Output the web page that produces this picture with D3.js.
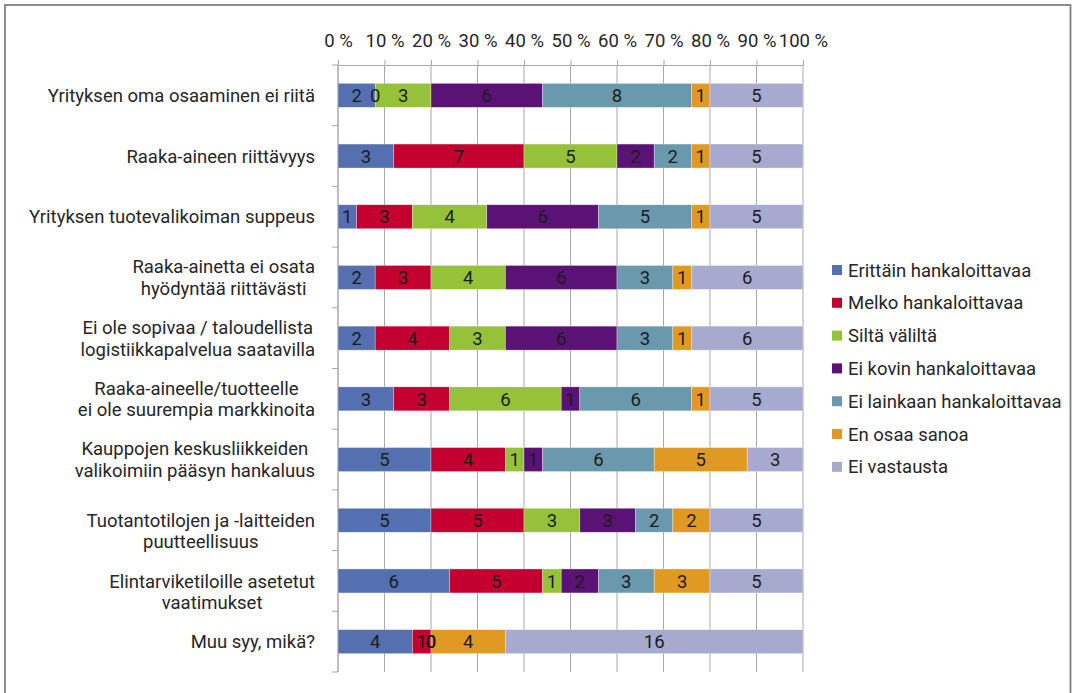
<!DOCTYPE html>
<html>
<head>
<meta charset="utf-8">
<script src="https://cdn.jsdelivr.net/npm/d3@7"></script>
<style>
  html, body { margin: 0; padding: 0; background: #fff; }
  svg { display: block; font-family: Roboto, "Noto Sans", sans-serif; }
</style>
</head>
<body>
<svg id="chart" width="1074" height="693"></svg>
<script>
// Category labels (each entry is a list of lines)
const categories = [
  ["Yrityksen oma osaaminen ei riitä"],
  ["Raaka-aineen riittävyys"],
  ["Yrityksen tuotevalikoiman suppeus"],
  ["Raaka-ainetta ei osata", "hyödyntää riittävästi"],
  ["Ei ole sopivaa / taloudellista", "logistiikkapalvelua saatavilla"],
  ["Raaka-aineelle/tuotteelle", "ei ole suurempia markkinoita"],
  ["Kauppojen keskusliikkeiden", "valikoimiin pääsyn hankaluus"],
  ["", "Tuotantotilojen ja -laitteiden", "puutteellisuus"],
  ["", "Elintarviketiloille asetetut", "vaatimukset"],
  ["Muu syy, mikä?"]
];

const seriesNames = [
  "Erittäin hankaloittavaa",
  "Melko hankaloittavaa",
  "Siltä väliltä",
  "Ei kovin hankaloittavaa",
  "Ei lainkaan hankaloittavaa",
  "En osaa sanoa",
  "Ei vastausta"
];

const seriesColors = ["#5470b0", "#c3002f", "#96c23a", "#5a1275", "#6a98ad", "#e09a24", "#a6aacf"];

// Response counts per series, in category order
const erittain   = [2, 3, 1, 2, 2, 3, 5, 5, 6, 4];
const melko      = [0, 7, 3, 3, 4, 3, 4, 5, 5, 1];
const siltaValta = [3, 5, 4, 4, 3, 6, 1, 3, 1, 0];
const eiKovin    = [6, 2, 6, 6, 6, 1, 1, 3, 2, 0];
const eiLainkaan = [8, 2, 5, 3, 3, 6, 6, 2, 3, 0];
const enOsaa     = [1, 1, 1, 1, 1, 1, 5, 2, 3, 4];
const eiVastausta = [5, 5, 5, 6, 6, 5, 3, 5, 5, 16];

const tickValues = [0, 0.1, 0.2, 0.3, 0.4, 0.5, 0.6, 0.7, 0.8, 0.9, 1.0];

const seriesValues = [erittain, melko, siltaValta, eiKovin, eiLainkaan, enOsaa, eiVastausta];

const svg = d3.select("#chart");
const textColor = "#262626";
const gridColor = "#a8a8a8";
const fontSize = 18.5;

// Outer frame
svg.append("rect")
  .attr("x", 5).attr("y", 5).attr("width", 1065.5).attr("height", 720)
  .attr("fill", "none").attr("stroke", "#808080").attr("stroke-width", 1.8);

const plotLeft = 338, plotRight = 803, plotTop = 65, plotBottom = 672;
const keys = categories.map((c, i) => i);

const x = d3.scaleLinear().domain([0, 1]).range([plotLeft, plotRight]);
const y = d3.scaleBand().domain(keys).range([plotTop, plotBottom])
  .paddingInner(0.605).paddingOuter(0.3025);

// Table of rows with shares for the 100% stack
const rows = keys.map(i => {
  const row = { idx: i };
  const total = d3.sum(seriesValues, s => s[i]);
  seriesNames.forEach((n, k) => { row[n] = seriesValues[k][i] / total; row[n + "_n"] = seriesValues[k][i]; });
  return row;
});
const stack = d3.stack().keys(seriesNames)(rows);

// Vertical gridlines
svg.append("g").selectAll("line").data(tickValues).join("line")
  .attr("x1", d => x(d)).attr("x2", d => x(d))
  .attr("y1", plotTop).attr("y2", plotBottom)
  .attr("stroke", gridColor).attr("stroke-width", 1);

// Top percentage axis
const xAxis = svg.append("g").attr("transform", `translate(0,${plotTop})`)
  .call(d3.axisTop(x).tickValues(tickValues).tickSize(5).tickSizeOuter(0).tickPadding(13)
    .tickFormat(d => Math.round(d * 100) + " %"));
xAxis.select(".domain").attr("stroke", gridColor);
xAxis.selectAll(".tick line").attr("stroke", gridColor);
xAxis.selectAll(".tick text").attr("fill", textColor)
  .style("font-size", fontSize + "px").style("font-family", "Roboto, sans-serif");

// Left category axis line with ticks at band boundaries
const boundaries = keys.map(i => y(i) - y.step() * y.paddingInner() / 2).concat([plotBottom]);
svg.append("line").attr("x1", plotLeft).attr("x2", plotLeft).attr("y1", plotTop).attr("y2", plotBottom)
  .attr("stroke", gridColor);
svg.append("g").selectAll("line").data(boundaries).join("line")
  .attr("x1", plotLeft - 6).attr("x2", plotLeft).attr("y1", d => d).attr("y2", d => d)
  .attr("stroke", gridColor);

// Stacked bar segments
const layers = svg.append("g").selectAll("g").data(stack).join("g")
  .attr("fill", (d, k) => seriesColors[k]);
layers.selectAll("rect").data(d => d).join("rect")
  .attr("x", d => x(d[0]))
  .attr("width", d => x(d[1]) - x(d[0]))
  .attr("y", d => y(d.data.idx))
  .attr("height", y.bandwidth())
  .attr("stroke", "#ffffff").attr("stroke-opacity", 0.5).attr("stroke-width", 0.6);

// Value labels centred in each segment
const labels = svg.append("g");
stack.forEach(layer => {
  labels.selectAll(null).data(layer).join("text")
    .attr("x", d => (x(d[0]) + x(d[1])) / 2)
    .attr("y", d => y(d.data.idx) + y.bandwidth() / 2)
    .attr("dy", "0.36em")
    .attr("text-anchor", "middle")
    .attr("fill", "#1c1c1c")
    .style("font-size", fontSize + "px")
    .text(d => d.data[layer.key + "_n"]);
});

// Category labels: block right-aligned, lines centred within the block
const labelRight = 315;
const lineH = 21.5;
const catG = svg.append("g").attr("fill", textColor).style("font-size", fontSize + "px");
categories.forEach((lines, i) => {
  const g = catG.append("g");
  const cy = y(i) + y.bandwidth() / 2;
  const texts = lines.map((ln, j) => g.append("text")
    .attr("y", cy + (j - (lines.length - 1) / 2) * lineH)
    .attr("dy", "0.36em")
    .attr("text-anchor", "middle")
    .text(ln));
  const w = d3.max(texts, t => t.node().getComputedTextLength());
  texts.forEach(t => t.attr("x", labelRight - w / 2));
});

// Legend
const legend = svg.append("g").attr("transform", "translate(832,270)");
const item = legend.selectAll("g").data(seriesNames).join("g")
  .attr("transform", (d, k) => `translate(0,${k * 32.8})`);
item.append("rect").attr("x", 0).attr("y", -5).attr("width", 10).attr("height", 10)
  .attr("fill", (d, k) => seriesColors[k]);
item.append("text").attr("x", 16).attr("dy", "0.36em")
  .attr("fill", textColor).style("font-size", fontSize + "px")
  .text(d => d);
</script>
</body>
</html>
